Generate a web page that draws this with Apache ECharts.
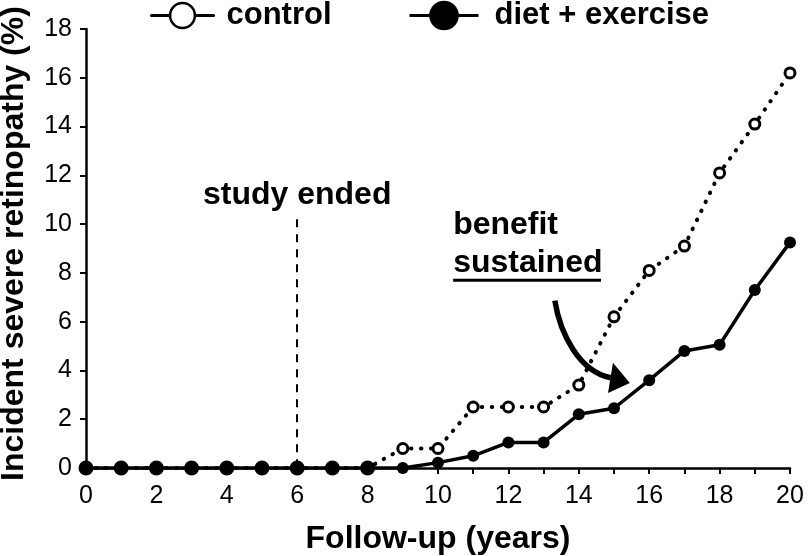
<!DOCTYPE html>
<html><head><meta charset="utf-8">
<script src="https://cdn.jsdelivr.net/npm/echarts@6/dist/echarts.min.js"></script>
<style>html,body{margin:0;padding:0;background:#fff}#c{width:808px;height:556px}</style>
</head><body><div id="c"></div>
<script>
// ---- data ----
const years = [0,1,2,3,4,5,6,7,8,9,10,11,12,13,14,15,16,17,18,19,20];
const control = [0,0,0,0,0,0,0,0,0,0.8,0.8,2.5,2.5,2.5,3.4,6.2,8.1,9.1,12.1,14.1,16.2];
const dietExercise = [0,0,0,0,0,0,0,0,0,0,0.22,0.5,1.05,1.05,2.2,2.45,3.6,4.8,5.05,7.3,9.25];
const seriesNames = ['control', 'diet + exercise'];
const xTickLabels = ['0','2','4','6','8','10','12','14','16','18','20'];
const yTickLabels = ['0','2','4','6','8','10','12','14','16','18'];
const studyEndYear = 6;

const FONT = '"Liberation Sans", Arial, Helvetica, sans-serif';
const chart = echarts.init(document.getElementById('c'), null, {renderer: 'canvas'});

const option = {
  animation: false,
  backgroundColor: '#fff',
  grid: {left: 86, right: 18, top: 29, bottom: 88, containLabel: false, outerBoundsMode: 'none'},
  legend: [
    {
      data: [{name: seriesNames[0], itemStyle: {color: '#fff', borderColor: '#000', borderWidth: 2.5},
              lineStyle: {type: 'solid', width: 3, color: '#000'}}],
      left: 150, top: 0, padding: 0, itemWidth: 62, itemHeight: 31,
      textStyle: {fontSize: 31, fontWeight: 'bold', color: '#000', fontFamily: FONT, padding: [0,0,0,8]}
    },
    {
      data: [{name: seriesNames[1], itemStyle: {color: '#000'},
              lineStyle: {type: 'solid', width: 3, color: '#000'}}],
      left: 408, top: 0, padding: 0, itemWidth: 69, itemHeight: 37,
      textStyle: {fontSize: 31, fontWeight: 'bold', color: '#000', fontFamily: FONT, padding: [0,0,0,11]}
    }
  ],
  xAxis: {
    type: 'value', min: 0, max: 20, interval: 1,
    axisLine: {show: true, lineStyle: {color: '#000', width: 2.5}},
    axisTick: {show: true, inside: false, length: 6, lineStyle: {color: '#000', width: 2}},
    axisLabel: {
      formatter: v => (xTickLabels.indexOf(String(v)) >= 0 ? String(v) : ''),
      margin: 16, color: '#000', fontSize: 25, fontFamily: FONT
    },
    splitLine: {show: false},
    name: 'Follow-up (years)', nameLocation: 'middle', nameGap: 55,
    nameTextStyle: {fontSize: 32, fontWeight: 'bold', color: '#000', fontFamily: FONT}
  },
  yAxis: {
    type: 'value', min: 0, max: 18, interval: 2,
    axisLine: {show: true, lineStyle: {color: '#000', width: 2.5}},
    axisTick: {show: true, inside: false, length: 6, lineStyle: {color: '#000', width: 2}},
    axisLabel: {
      formatter: v => (yTickLabels.indexOf(String(v)) >= 0 ? String(v) : ''),
      margin: 14, color: '#000', fontSize: 25, fontFamily: FONT
    },
    splitLine: {show: false},
    name: 'Incident severe retinopathy (%)', nameLocation: 'middle', nameGap: 56,
    nameTextStyle: {fontSize: 32, fontWeight: 'bold', color: '#000', fontFamily: FONT, padding: [0,0,0,10]}
  },
  series: [
    {
      name: seriesNames[0], type: 'line',
      data: years.map((y, i) => [y, control[i]]),
      symbol: 'circle', symbolSize: 10, z: 2,
      itemStyle: {color: '#fff', borderColor: '#000', borderWidth: 3},
      lineStyle: {color: '#000', width: 4, type: [0.5, 9.5], cap: 'round'}
    },
    {
      name: seriesNames[1], type: 'line',
      data: years.map((y, i) => [y, dietExercise[i]]),
      symbol: 'circle', symbolSize: (v, p) => (p.dataIndex <= 8 ? 15 : 12), z: 3,
      itemStyle: {color: '#000'},
      lineStyle: {color: '#000', width: 3.5, type: 'solid'},
      markLine: {
        silent: true, symbol: ['none', 'none'], label: {show: false},
        lineStyle: {type: [8, 7], width: 2, color: '#000'},
        data: [[{coord: [studyEndYear, 10.2]}, {coord: [studyEndYear, 0]}]]
      }
    }
  ]
};
chart.setOption(option);

// ---- annotations anchored in data coordinates ----
const px = (x, y) => chart.convertToPixel({gridIndex: 0}, [x, y]);
const txt = (str, p, align) => ({
  type: 'text', x: p[0], y: p[1], silent: true,
  style: {text: str, fill: '#000', font: 'bold 32px ' + FONT,
          textAlign: align, textVerticalAlign: 'middle', align: align, verticalAlign: 'middle'}
});
const pStudy = px(studyEndYear, 11.18);
const pBenefit = px(10.43, 9.95);
const pSust = px(10.43, 8.41);
const u1 = px(10.43, 7.7), u2 = px(14.63, 7.7);
const a0 = px(13.32, 6.86), c1 = px(13.47, 5.47), c2 = px(14.03, 3.95), a1 = px(14.91, 3.70);
const t1 = px(14.97, 4.32), t2 = px(14.83, 3.08), t3 = px(15.45, 3.49);

chart.setOption({
  graphic: [
    txt('study ended', pStudy, 'center'),
    txt('benefit', pBenefit, 'left'),
    txt('sustained', pSust, 'left'),
    {type: 'line', silent: true, shape: {x1: u1[0], y1: u1[1], x2: u2[0], y2: u2[1]},
     style: {stroke: '#000', lineWidth: 3}},
    {type: 'bezierCurve', silent: true,
     shape: {x1: a0[0], y1: a0[1], cpx1: c1[0], cpy1: c1[1], cpx2: c2[0], cpy2: c2[1], x2: a1[0], y2: a1[1]},
     style: {stroke: '#000', lineWidth: 5.5, fill: null}},
    {type: 'polygon', silent: true, shape: {points: [t1, t3, t2]}, style: {fill: '#000'}}
  ]
});
</script>
</body></html>
